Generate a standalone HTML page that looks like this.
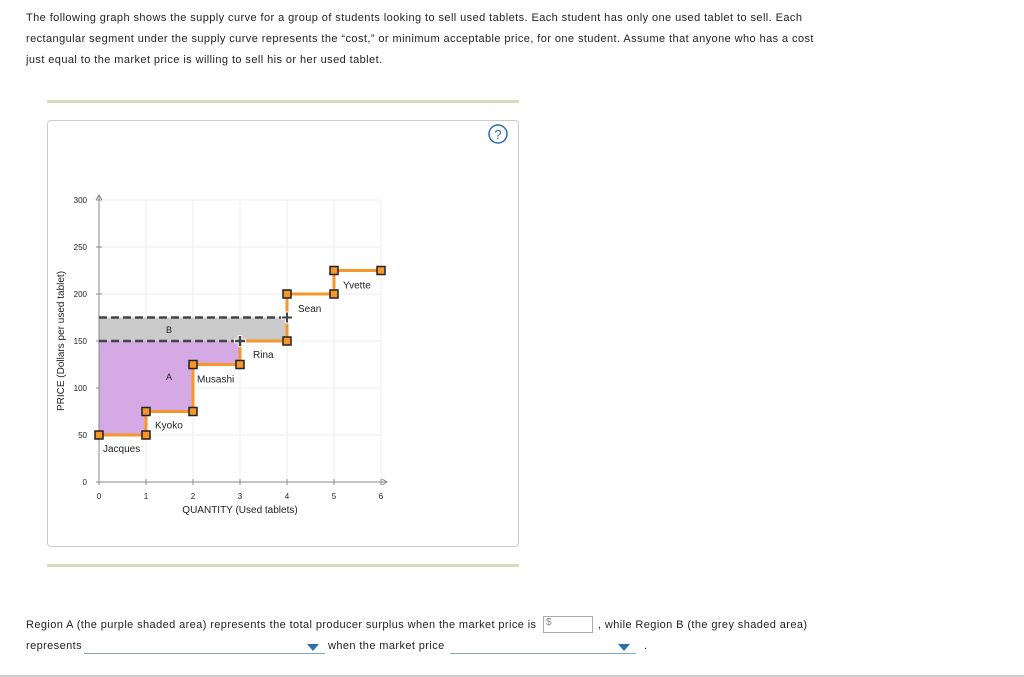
<!DOCTYPE html>
<html><head><meta charset="utf-8"><style>
body{margin:0;width:1024px;height:677px;background:#fff;font-family:"Liberation Sans",sans-serif;color:#222;position:relative;overflow:hidden}
.t{position:absolute;left:26px;top:8px;font-size:11px;line-height:21px;width:810px;letter-spacing:0.42px}
.hr{position:absolute;left:47px;width:472px;height:3px;background:#ddd8bc}
.panel{position:absolute;left:47px;top:120px;width:470px;height:425px;border:1px solid #ccc;border-radius:4px}
.q{position:absolute;font-size:11px;letter-spacing:0.4px}
.dd{position:absolute;height:12px;border-bottom:1px solid #7fa6cc}
.dd span{position:absolute;right:6px;top:3px;width:0;height:0;border-left:6px solid transparent;border-right:6px solid transparent;border-top:7px solid #2a6db0}
</style></head><body>
<div class="t">The following graph shows the supply curve for a group of students looking to sell used tablets. Each student has only one used tablet to sell. Each rectangular segment under the supply curve represents the “cost,” or minimum acceptable price, for one student. Assume that anyone who has a cost just equal to the market price is willing to sell his or her used tablet.</div>
<div class="hr" style="top:100px"></div>
<div class="hr" style="top:564px"></div>
<div class="panel"></div>
<svg width="1024" height="677" style="position:absolute;left:0;top:0" id="chart" font-family="Liberation Sans, sans-serif"></svg>
<div class="q" style="left:26px;top:619px">Region A (the purple shaded area) represents the total producer surplus when the market price is</div>
<div style="position:absolute;left:543px;top:616px;width:50px;height:17px;border:1px solid #aaa;font-size:10px;color:#888;padding-left:2px;box-sizing:border-box">$</div>
<div class="q" style="left:598px;top:619px">, while Region B (the grey shaded area)</div>
<div class="q" style="left:26px;top:640px">represents</div>
<div class="dd" style="left:84px;top:641px;width:241px"><span></span></div>
<div class="q" style="left:328px;top:640px">when the market price</div>
<div class="dd" style="left:450px;top:641px;width:186px"><span></span></div>
<div class="q" style="left:644px;top:640px">.</div>
<div style="position:absolute;left:0;top:675px;width:1024px;height:2px;background:#ccc"></div>
<script>
const names=["Jacques","Kyoko","Musashi","Rina","Sean","Yvette"];
const costs=[50,75,125,150,200,225];
const priceHigh=175;
const priceLow=150;
const xTicks=[0,1,2,3,4,5,6];
const yTicks=[0,50,100,150,200,250,300];
const X=q=>99+q*47, Y=p=>482-p*0.94;
const svg=document.getElementById('chart');const NS="http://www.w3.org/2000/svg";
function el(t,a,txt){const e=document.createElementNS(NS,t);for(const k in a)e.setAttribute(k,a[k]);if(txt!=null)e.textContent=txt;svg.appendChild(e);return e;}
let h=el('circle',{cx:498,cy:134,r:9,fill:'#fff',stroke:'#2a6db0','stroke-width':1.5});


el('text',{x:498,y:139,'font-size':13,fill:'#2a6db0','text-anchor':'middle'},'?');
xTicks.forEach(v=>{if(v>0)el('line',{x1:X(v),x2:X(v),y1:Y(0),y2:Y(300),stroke:'#eee'});
 el('line',{x1:X(v),x2:X(v),y1:Y(0)-3,y2:Y(0)+3,stroke:'#888'});
 const t=el('text',{x:X(v),y:499,'font-size':8,'text-anchor':'middle',fill:'#222'},v);
 
 });
yTicks.forEach(v=>{if(v>0)el('line',{x1:X(0),x2:X(6),y1:Y(v),y2:Y(v),stroke:'#eee'});
 el('line',{x1:X(0)-3,x2:X(0)+3,y1:Y(v),y2:Y(v),stroke:'#888'});
 const t=el('text',{x:87,y:Y(v)+3,'font-size':8,'text-anchor':'end',fill:'#222'},v);
 
 });
let b=el('rect',{x:X(0),y:Y(priceHigh),width:X(4)-X(0),height:Y(priceLow)-Y(priceHigh),fill:'#cacaca'});


let d=`M${X(0)},${Y(priceLow)}`;
costs.forEach((c,i)=>{if(c<priceLow){d+=` L${X(i)},${Y(c)} L${X(i+1)},${Y(c)}`;}});
const nA=costs.filter(c=>c<priceLow).length;
d+=` L${X(nA)},${Y(priceLow)} Z`;
let a=el('path',{d:d,fill:'#d5a9e3'});


el('line',{x1:X(0),x2:X(0),y1:Y(0),y2:196,stroke:'#888'});
el('path',{d:`M${X(0)-3},200 L${X(0)},195 L${X(0)+3},200`,fill:'none',stroke:'#888'});
el('line',{x1:X(0),x2:386,y1:Y(0),y2:Y(0),stroke:'#888'});
el('path',{d:`M382,${Y(0)-3} L387,${Y(0)} L382,${Y(0)+3}`,fill:'none',stroke:'#888'});
let sd='';costs.forEach((c,i)=>{sd+=(i?' L':'M')+X(i)+','+Y(c)+' L'+X(i+1)+','+Y(c);});
let s=el('path',{d:sd,fill:'none',stroke:'#f7962b','stroke-width':3});


[priceHigh,priceLow].forEach((p,k)=>{const l=el('line',{x1:X(0),x2:k?X(3):X(4),y1:Y(p),y2:Y(p),stroke:'#444','stroke-width':2.5,'stroke-dasharray':'8,4'});
 
 });
costs.forEach((c,i)=>{[i,i+1].forEach(q=>{if(i===3&&q===3)return;
 const r=el('rect',{x:X(q)-4,y:Y(c)-4,width:8,height:8,fill:'#f7962b',stroke:'#222','stroke-width':1.5});
 
 });});
function cross(x,y,w){el('path',{d:`M${x-6},${y} L${x+6},${y} M${x},${y-6} L${x},${y+6}`,stroke:'#fff','stroke-width':w+2});el('path',{d:`M${x-5},${y} L${x+5},${y} M${x},${y-5} L${x},${y+5}`,stroke:'#444','stroke-width':w});}
cross(X(3),Y(priceLow),2.5);cross(X(4),Y(priceHigh),2);
const lo=[[4,17],[9,17],[4,18],[13,17],[11,18],[9,18]];
costs.forEach((c,i)=>{const t=el('text',{x:X(i)+lo[i][0],y:Y(c)+lo[i][1],'font-size':10,fill:'#222'},names[i]);
 
 });
el('text',{x:169,y:333,'font-size':9,fill:'#222','text-anchor':'middle'},'B');
el('text',{x:169,y:380,'font-size':9,fill:'#222','text-anchor':'middle'},'A');
let xt=el('text',{x:240,y:513,'font-size':10,'text-anchor':'middle',fill:'#222'},'QUANTITY (Used tablets)');


let yt=el('text',{x:0,y:0,'font-size':10,'text-anchor':'middle',fill:'#222',transform:'translate(64,341) rotate(-90)'},'PRICE (Dollars per used tablet)');


</script>
</body></html>
